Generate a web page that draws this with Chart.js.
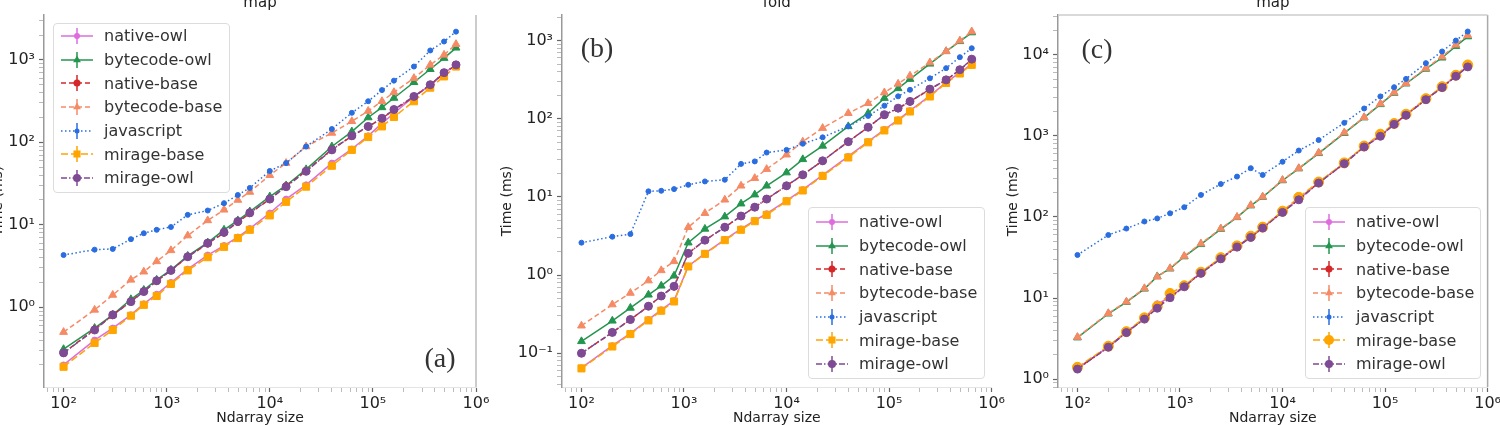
<!DOCTYPE html>
<html lang="en">
<head>
<meta charset="UTF-8">
<title>Ndarray map / fold timings</title>
<script src="https://cdn.jsdelivr.net/npm/chart.js"></script>
<style>
    body {
        margin: 0;
        width: 1500px;
        height: 425px;
        overflow: hidden;
        position: relative;
        background: #fff;
        font-family: "DejaVu Sans", sans-serif;
    }
    canvas.panel { position: absolute; }
    .legend {
        position: absolute;
        background: rgba(255, 255, 255, 0.85);
        border: 1px solid #dcdcdc;
        border-radius: 4px;
        box-sizing: border-box;
    }
    .legend .row { display: flex; align-items: center; height: 23.7px; }
    .legend canvas { margin-left: 6px; }
    .legend span { margin-left: 10px; font-size: 16px; color: #333; white-space: nowrap; }
    .tag {
        position: absolute;
        font-family: "Liberation Serif", serif;
        font-size: 28px;
        color: #333;
        transform: translate(-50%, -50%);
    }
</style>
</head>
<body>
<canvas id="chartA" class="panel"></canvas>
<canvas id="chartB" class="panel"></canvas>
<canvas id="chartC" class="panel"></canvas>

<script>
// ndarray sizes (x axis, shared by all three panels)
const sizes = [100, 200, 300, 450, 600, 800, 1100, 1600, 2500, 3600, 4900, 6400,
    10000, 14400, 22500, 40000, 62500, 90000, 122500, 160000, 250000, 360000, 490000, 640000];

const seriesNames = ['native-owl', 'bytecode-owl', 'native-base', 'bytecode-base', 'javascript', 'mirage-base', 'mirage-owl'];

// (a) map
const aNatOwl  = [0.20, 0.40, 0.56, 0.81, 1.10, 1.44, 2.0, 2.9, 4.3, 5.6, 7.1, 9.0, 13.9, 20.5, 30.5, 56, 83, 120, 170, 225, 360, 490, 690, 870];
const aBcOwl   = [0.31, 0.56, 0.81, 1.25, 1.62, 2.15, 2.85, 4.2, 6.1, 8.7, 11.3, 14.5, 22, 30, 47, 89, 135, 200, 265, 345, 535, 770, 1050, 1400];
const aNatBase = [0.28, 0.54, 0.80, 1.18, 1.56, 2.08, 2.8, 4.1, 5.9, 8.0, 10.8, 13.8, 20.5, 29.5, 45, 82, 119, 155, 195, 248, 355, 495, 690, 860];
const aBcBase  = [0.50, 0.93, 1.41, 2.15, 2.7, 3.6, 4.9, 7.4, 11.3, 15.2, 20, 25, 40, 56, 89, 130, 180, 240, 315, 405, 600, 870, 1150, 1550];
const aJs      = [4.3, 5.0, 5.1, 6.7, 7.9, 8.7, 9.4, 13.2, 14.9, 18.3, 23, 28, 45, 56, 89, 145, 228, 315, 430, 560, 830, 1300, 1670, 2200];
const aMirBase = [0.19, 0.37, 0.53, 0.79, 1.07, 1.37, 1.92, 2.8, 4.05, 5.4, 6.9, 8.7, 13, 19, 29, 52, 81, 116, 156, 203, 315, 460, 630, 830];
const aMirOwl  = [0.28, 0.53, 0.81, 1.17, 1.55, 2.1, 2.8, 4.1, 6.0, 8.1, 11, 14, 20.5, 29, 44.5, 81, 120, 156, 196, 250, 360, 500, 700, 870];

// (b) fold
const bNatOwl  = [0.065, 0.125, 0.18, 0.27, 0.36, 0.47, 1.3, 1.9, 2.85, 3.9, 5.0, 6.1, 9.0, 12.4, 19, 33, 51, 73, 97, 127, 197, 292, 390, 500];
const bBcOwl   = [0.142, 0.26, 0.38, 0.56, 0.73, 0.98, 2.6, 3.9, 5.6, 8.2, 10.7, 13.9, 20.5, 30.3, 45, 80, 118, 184, 245, 322, 505, 730, 980, 1270];
const bNatBase = [0.10, 0.185, 0.27, 0.40, 0.54, 0.71, 1.9, 2.8, 4.1, 5.7, 7.4, 9.4, 13.9, 19.2, 29, 51, 78, 112, 136, 166, 238, 315, 420, 575];
const bBcBase  = [0.225, 0.42, 0.59, 0.85, 1.15, 1.5, 4.1, 6.2, 9.2, 13.9, 17.4, 22.7, 34.7, 51, 76, 118, 158, 217, 280, 355, 525, 730, 1000, 1310];
const bJs      = [2.6, 3.1, 3.35, 11.8, 12, 12.6, 14.3, 15.8, 16.6, 26.5, 28.5, 37, 40, 48, 58, 80, 109, 147, 194, 235, 330, 445, 615, 800];
const bMirBase = [0.064, 0.122, 0.176, 0.263, 0.35, 0.46, 1.29, 1.87, 2.8, 3.8, 4.9, 5.9, 8.8, 12.1, 18.6, 32, 50, 71, 95, 124, 193, 288, 380, 490];
const bMirOwl  = [0.10, 0.185, 0.27, 0.40, 0.54, 0.72, 1.9, 2.8, 4.1, 5.7, 7.4, 9.4, 13.9, 19.2, 29, 51, 78, 113, 137, 167, 240, 315, 425, 580];

// (c) map
const cNatOwl  = [1.35, 2.5, 3.8, 5.6, 8.5, 10.2, 14, 20.5, 31, 43, 57, 74, 116, 166, 265, 460, 740, 1000, 1400, 1820, 2830, 3990, 5500, 7200];
const cBcOwl   = [3.25, 6.4, 8.9, 13.0, 18.5, 23, 32.5, 46, 71, 99, 138, 176, 282, 395, 610, 1080, 1680, 2450, 3380, 4400, 6700, 9200, 12800, 16800];
const cNatBase = [1.35, 2.5, 3.8, 5.6, 7.8, 10.3, 14, 20.5, 31, 43, 57, 74, 116, 166, 265, 460, 740, 1000, 1400, 1820, 2830, 3990, 5500, 7200];
const cBcBase  = [3.3, 6.5, 9.0, 13.2, 18.3, 23.3, 33, 47, 72, 100, 140, 178, 286, 400, 620, 1100, 1700, 2500, 3430, 4470, 6850, 9500, 13300, 17500];
const cJs      = [34, 60, 72, 88, 96, 111, 132, 187, 255, 315, 400, 330, 480, 660, 890, 1450, 2180, 3070, 3990, 5050, 7900, 11000, 15000, 19400];
const cMirBase = [1.4, 2.55, 3.85, 5.7, 7.9, 11.4, 14.2, 20.8, 31.5, 44, 58, 75, 118, 175, 270, 465, 750, 1050, 1420, 1850, 2880, 4050, 5600, 7500];
const cMirOwl  = [1.33, 2.48, 3.75, 5.5, 7.5, 10.1, 13.8, 20.2, 30.5, 42.5, 56, 73, 114, 163, 262, 455, 730, 990, 1390, 1800, 2800, 3950, 5450, 7100];

// look of each series
const seriesColors = ['#dd6ddd', '#23954f', '#d62728', '#f58a65', '#2a6de0', '#ffa500', '#7e4a94'];
const seriesDash   = [[], [], [5, 3], [5, 3], [1.5, 2.5], [7, 3], [6, 2, 1.5, 2]];
const seriesMarker = ['circle', 'triangle', 'circle', 'triangle', 'circle', 'rect', 'circle'];
const seriesRadius = [3, 4.5, 3.5, 4.5, 2.5, 5, 4];

Chart.defaults.font.family = "'DejaVu Sans', sans-serif";
Chart.defaults.color = '#222';

const supDigits = {'0': '⁰', '1': '¹', '2': '²', '3': '³', '4': '⁴', '5': '⁵', '6': '⁶', '7': '⁷', '8': '⁸', '9': '⁹', '-': '⁻'};

function isPow10(v) {
    const l = Math.log10(v);
    return Math.abs(l - Math.round(l)) < 1e-9;
}

function powLabel(v) {
    if (!isPow10(v)) return '';
    const e = Math.round(Math.log10(v));
    return '10' + String(e).split('').map(c => supDigits[c]).join('');
}

// 1..9 x 10^k ticks inside [min, max]
function logTicks(min, max) {
    const out = [];
    for (let e = Math.floor(Math.log10(min)); e <= Math.ceil(Math.log10(max)); e++) {
        for (let m = 1; m <= 9; m++) {
            const v = m * Math.pow(10, e);
            if (v >= min * 0.9999 && v <= max * 1.0001) out.push({value: v});
        }
    }
    return out;
}

// top / right frame lines
const spines = {
    id: 'spines',
    afterDraw(chart, args, opts) {
        const {ctx, chartArea: a} = chart;
        ctx.save();
        ctx.lineWidth = 1.5;
        if (opts.right) {
            ctx.strokeStyle = opts.right;
            ctx.beginPath(); ctx.moveTo(a.right, a.top); ctx.lineTo(a.right, a.bottom); ctx.stroke();
        }
        if (opts.top) {
            ctx.strokeStyle = opts.top;
            ctx.beginPath(); ctx.moveTo(a.left, a.top); ctx.lineTo(a.right, a.top); ctx.stroke();
        }
        ctx.restore();
    }
};

function tickGrid() {
    return {
        display: true,
        drawOnChartArea: false,
        drawTicks: true,
        tickLength: 5,
        tickColor: c => (c.tick && isPow10(c.tick.value)) ? '#666' : '#aaa',
        tickWidth: c => (c.tick && isPow10(c.tick.value)) ? 1.2 : 0.8
    };
}

function makeChart(p) {
    const canvas = document.getElementById(p.id);
    canvas.width = p.width;
    canvas.height = 440;
    canvas.style.left = p.left + 'px';
    canvas.style.top = '-6px';

    const markers = p.markers || seriesMarker;
    const datasets = seriesNames.map((name, i) => ({
        label: name,
        data: sizes.map((x, k) => ({x: x, y: p.data[i][k]})),
        borderColor: seriesColors[i],
        backgroundColor: seriesColors[i],
        borderWidth: 1.5,
        borderDash: seriesDash[i],
        pointStyle: markers[i],
        pointRadius: seriesRadius[i],
        pointBackgroundColor: seriesColors[i],
        pointBorderColor: seriesColors[i],
        pointBorderWidth: 1,
        tension: 0,
        fill: false,
        order: -i
    }));

    return new Chart(canvas, {
        type: 'line',
        data: {datasets},
        options: {
            responsive: false,
            animation: false,
            devicePixelRatio: 1,
            layout: {padding: {left: 0, right: p.padRight, top: 0, bottom: 0}},
            plugins: {
                legend: {display: false},
                tooltip: {enabled: false},
                title: {
                    display: true,
                    text: p.title,
                    fullSize: false,
                    font: {size: 15, weight: 'normal'},
                    color: '#222',
                    padding: {top: 0, bottom: 3}
                },
                spines: {right: p.rightSpine, top: p.topSpine}
            },
            scales: {
                x: {
                    type: 'logarithmic',
                    min: 64.6,
                    max: 1e6,
                    afterBuildTicks: s => { s.ticks = logTicks(s.min, s.max); },
                    afterFit: s => { s.height = 47; },
                    ticks: {callback: v => powLabel(v), autoSkip: false, maxRotation: 0, font: {size: 16}, color: '#222', padding: 2},
                    grid: tickGrid(),
                    border: {display: true, color: '#e4e4e4', width: 1},
                    title: {display: true, text: 'Ndarray size', font: {size: 14}, color: '#222', padding: {top: 0, bottom: 7}}
                },
                y: {
                    type: 'logarithmic',
                    min: p.yMin,
                    max: p.yMax,
                    afterBuildTicks: s => { s.ticks = logTicks(s.min, s.max); },
                    afterFit: s => { s.width = p.yWidth; },
                    ticks: {callback: v => powLabel(v), autoSkip: false, font: {size: 16}, color: '#222', padding: 4},
                    grid: tickGrid(),
                    border: {display: true, color: '#999', width: 1.5},
                    title: {display: true, text: 'Time (ms)', font: {size: 14}, color: '#222', padding: {top: 0, bottom: 0}}
                }
            }
        },
        plugins: [spines]
    });
}

// small swatch: line, error bar and marker, like the matplotlib legend
function legendIcon(i, marker) {
    const c = document.createElement('canvas');
    c.width = 34; c.height = 22;
    const g = c.getContext('2d');
    const col = seriesColors[i];
    g.strokeStyle = col; g.fillStyle = col; g.lineWidth = 1.5;
    g.setLineDash(seriesDash[i]);
    g.beginPath(); g.moveTo(1, 11); g.lineTo(33, 11); g.stroke();
    g.setLineDash([]);
    g.beginPath(); g.moveTo(17, 3); g.lineTo(17, 19); g.stroke();
    const r = seriesRadius[i];
    g.beginPath();
    if (marker === 'triangle') {
        g.moveTo(17, 11 - r); g.lineTo(17 + r * 0.87, 11 + r / 2); g.lineTo(17 - r * 0.87, 11 + r / 2); g.closePath();
    } else if (marker === 'rect') {
        const h = r / Math.SQRT2;
        g.rect(17 - h, 11 - h, 2 * h, 2 * h);
    } else {
        g.arc(17, 11, r, 0, Math.PI * 2);
    }
    g.fill();
    return c;
}

function makeLegend(p) {
    const box = document.createElement('div');
    box.className = 'legend';
    Object.assign(box.style, {
        left: p.legend.left + 'px', top: p.legend.top + 'px',
        width: p.legend.width + 'px', height: p.legend.height + 'px',
        paddingTop: p.legend.padTop + 'px'
    });
    const markers = p.markers || seriesMarker;
    seriesNames.forEach((name, i) => {
        const row = document.createElement('div');
        row.className = 'row';
        row.appendChild(legendIcon(i, markers[i]));
        const span = document.createElement('span');
        span.textContent = name;
        row.appendChild(span);
        box.appendChild(row);
    });
    document.body.appendChild(box);

    const tag = document.createElement('div');
    tag.className = 'tag';
    tag.textContent = p.tag.text;
    tag.style.left = p.tag.x + 'px';
    tag.style.top = p.tag.y + 'px';
    document.body.appendChild(tag);
}

const panels = [
    {
        id: 'chartA', title: 'map', left: -10, width: 502, padRight: 16, yWidth: 54,
        yMin: 0.108, yMax: 3500,
        data: [aNatOwl, aBcOwl, aNatBase, aBcBase, aJs, aMirBase, aMirOwl],
        rightSpine: '#bbb', topSpine: null,
        legend: {left: 53, top: 23, width: 177, height: 170, padTop: 0},
        tag: {text: '(a)', x: 440, y: 358}
    },
    {
        id: 'chartB', title: 'fold', left: 499, width: 508, padRight: 14, yWidth: 63,
        yMin: 0.037, yMax: 2130,
        data: [bNatOwl, bBcOwl, bNatBase, bBcBase, bJs, bMirBase, bMirOwl],
        rightSpine: null, topSpine: null,
        legend: {left: 808, top: 207, width: 177, height: 172, padTop: 2},
        tag: {text: '(b)', x: 597, y: 48}
    },
    {
        id: 'chartC', title: 'map', left: 1005, width: 498, padRight: 14, yWidth: 53,
        yMin: 0.8, yMax: 31000,
        data: [cNatOwl, cBcOwl, cNatBase, cBcBase, cJs, cMirBase, cMirOwl],
        markers: ['circle', 'triangle', 'circle', 'triangle', 'circle', 'circle', 'circle'],
        rightSpine: '#aaa', topSpine: '#ccc',
        legend: {left: 1305, top: 207, width: 176, height: 172, padTop: 2},
        tag: {text: '(c)', x: 1097, y: 49}
    }
];

panels.forEach(p => {
    makeChart(p);
    makeLegend(p);
});
</script>
</body>
</html>
